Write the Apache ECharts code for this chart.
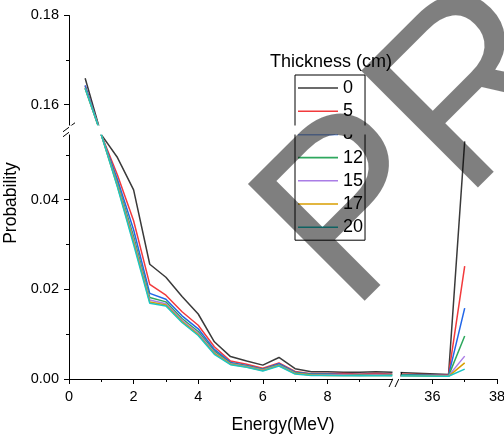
<!DOCTYPE html>
<html><head><meta charset="utf-8">
<script src="https://cdn.jsdelivr.net/npm/echarts@6.0.0/dist/echarts.min.js"></script>
<style>html,body{margin:0;padding:0;background:#fff}#c{width:504px;height:438px}</style>
</head><body><div id="c"></div>
<script>
const energy = [0.5,1,1.5,2,2.5,3,3.5,4,4.5,5,5.5,6,6.5,7,7.5,8,8.5,9,9.5,10,36.5,37];
const thickness = ['0','5','8','12','15','17','20'];
const t0  = [0.1659,0.0545,0.0494,0.0422,0.0256,0.0227,0.0184,0.0145,0.0083,0.0050,0.0040,0.0031,0.0048,0.0023,0.0016,0.0016,0.0015,0.0015,0.0016,0.0015,0.0010,0.0530];
const t5  = [0.1642,0.0545,0.0455,0.0353,0.0211,0.0187,0.0150,0.0120,0.0072,0.0040,0.0033,0.0024,0.0036,0.0017,0.0012,0.0012,0.0012,0.0011,0.0012,0.0011,0.0009,0.0252];
const t8  = [0.1643,0.0545,0.0445,0.0333,0.0191,0.0178,0.0141,0.0112,0.0066,0.0037,0.0030,0.0022,0.0034,0.0015,0.0011,0.0011,0.0010,0.0010,0.0010,0.0010,0.0008,0.0158];
const t12 = [0.1638,0.0545,0.0438,0.0318,0.0182,0.0172,0.0135,0.0106,0.0062,0.0035,0.0029,0.0021,0.0032,0.0014,0.0010,0.0010,0.0009,0.0009,0.0009,0.0009,0.0007,0.0096];
const t15 = [0.1637,0.0545,0.0433,0.0310,0.0176,0.0168,0.0131,0.0102,0.0059,0.0034,0.0028,0.0020,0.0031,0.0013,0.0009,0.0009,0.0009,0.0008,0.0009,0.0008,0.0007,0.0051];
const t17 = [0.1636,0.0545,0.0430,0.0305,0.0172,0.0165,0.0128,0.0099,0.0057,0.0033,0.0027,0.0019,0.0030,0.0012,0.0009,0.0008,0.0008,0.0008,0.0008,0.0008,0.0006,0.0036];
const t20 = [0.1636,0.0545,0.0428,0.0300,0.0169,0.0163,0.0126,0.0097,0.0055,0.0032,0.0026,0.0018,0.0029,0.0011,0.0008,0.0008,0.0007,0.0007,0.0007,0.0007,0.0006,0.0022];
const seriesValues = [t0,t5,t8,t12,t15,t17,t20];
const colors = ['#3a3a3a','#f23a3c','#2166e8','#2ea85e','#aa7de6','#d89e00','#1cc4c4'];
const xMajorTicks = [0,2,4,6,8,36,38];
const xMinorTicks = [1,3,5,7,9,37];
const yMajorTicks = [0,0.02,0.04,0.16,0.18];
const yMinorTicks = [0.01,0.03,0.05,0.17];
const xBreak = {start:10, end:35, gap:0.25};
const yBreak = {start:0.0545, end:0.1555, gap:0.0022};

const FONT = '"Liberation Sans", Arial, sans-serif';
const chart = echarts.init(document.getElementById('c'), null, {renderer:'canvas'});
const gridPos = {left:69, right:7, top:15, bottom:59, containLabel:false, outerBoundsMode:'none'};
const breakArea = {show:true, itemStyle:{color:'#fff', borderColor:'#fff', borderWidth:0, opacity:1}, zigzagAmplitude:0, zigzagZ:100, expandOnClick:false};
const noBreakArea = {show:false};

const option = {
  animation:false,
  backgroundColor:'#fff',
  textStyle:{fontFamily:FONT},
  grid:[Object.assign({}, gridPos), Object.assign({}, gridPos)],
  xAxis:[{
    type:'value', gridIndex:0, min:0, max:38, position:'bottom',
    breaks:[xBreak], breakArea:breakArea,
    name:'Energy(MeV)', nameLocation:'middle', nameGap:37,
    nameTextStyle:{color:'#000', fontSize:17.5, fontFamily:FONT},
    axisLine:{show:true, lineStyle:{color:'#000', width:1}},
    axisTick:{show:true, customValues:xMajorTicks, length:5, lineStyle:{color:'#000', width:1}},
    axisLabel:{show:true, customValues:xMajorTicks, color:'#000', fontSize:14.5, fontFamily:FONT, margin:10},
    splitLine:{show:false}
  },{
    type:'value', gridIndex:1, min:0, max:38, position:'bottom',
    breaks:[xBreak], breakArea:noBreakArea,
    axisLine:{show:false},
    axisTick:{show:true, customValues:xMinorTicks, length:3, lineStyle:{color:'#000', width:1}},
    axisLabel:{show:false}, splitLine:{show:false}
  }],
  yAxis:[{
    type:'value', gridIndex:0, min:0, max:0.18, position:'left',
    breaks:[yBreak], breakArea:breakArea,
    name:'Probability', nameLocation:'middle', nameGap:38,
    nameTextStyle:{color:'#000', fontSize:17.5, fontFamily:FONT, padding:[0,12,0,0]},
    axisLine:{show:true, lineStyle:{color:'#000', width:1}},
    axisTick:{show:true, customValues:yMajorTicks, length:5, lineStyle:{color:'#000', width:1}},
    axisLabel:{show:true, customValues:yMajorTicks, color:'#000', fontSize:14.5, fontFamily:FONT, margin:10,
      formatter:function(v){return Number(v).toFixed(2);}},
    splitLine:{show:false}
  },{
    type:'value', gridIndex:1, min:0, max:0.18, position:'left',
    breaks:[yBreak], breakArea:noBreakArea,
    axisLine:{show:false},
    axisTick:{show:true, customValues:yMinorTicks, length:3, lineStyle:{color:'#000', width:1}},
    axisLabel:{show:false}, splitLine:{show:false}
  }],
  legend:{
    show:true, orient:'vertical', left:295, top:75,
    data:thickness,
    icon:'rect',
    itemWidth:40, itemHeight:1.6, itemGap:5.2,
    padding:[4,2,4,3],
    borderColor:'#000', borderWidth:1, backgroundColor:'transparent',
    textStyle:{color:'#000', fontSize:18, lineHeight:18, fontFamily:FONT},
    selectedMode:false
  },
  series: thickness.map(function(name, k){
    return {
      name:name, type:'line', xAxisIndex:0, yAxisIndex:0,
      symbol:'none', showSymbol:false, clip:true,
      lineStyle:{color:colors[k], width:1.5},
      itemStyle:{color:colors[k]},
      data: energy.map(function(x,i){return [x, seriesValues[k][i]];})
    };
  })
};
chart.setOption(option);

// decorations: break marks, legend title, watermark
const xb0 = chart.convertToPixel({xAxisIndex:0}, xBreak.start);
const xb1 = chart.convertToPixel({xAxisIndex:0}, xBreak.end);
const yb0 = chart.convertToPixel({yAxisIndex:0}, yBreak.start);
const yb1 = chart.convertToPixel({yAxisIndex:0}, yBreak.end);
const xc = (xb0 + xb1) / 2;
const yc = (yb0 + yb1) / 2;
const yAxisX = chart.convertToPixel({xAxisIndex:0}, 0);
const xAxisY = chart.convertToPixel({yAxisIndex:0}, 0);
const ls = {stroke:'#000', lineWidth:1};
chart.setOption({
  graphic:[
    {type:'rect', z:50, silent:true, shape:{x:xc-3.5, y:xAxisY-3, width:7, height:6}, style:{fill:'#fff'}},
    {type:'line', z:51, silent:true, shape:{x1:xc-7, y1:xAxisY+8, x2:xc, y2:xAxisY-7}, style:ls},
    {type:'line', z:51, silent:true, shape:{x1:xc-1, y1:xAxisY+8, x2:xc+6, y2:xAxisY-7}, style:ls},
    {type:'rect', z:50, silent:true, shape:{x:yAxisX-3, y:yc-3.5, width:6, height:7}, style:{fill:'#fff'}},
    {type:'line', z:51, silent:true, shape:{x1:yAxisX-6, y1:yc+7, x2:yAxisX+6, y2:yc-2}, style:ls},
    {type:'line', z:51, silent:true, shape:{x1:yAxisX-6, y1:yc+2, x2:yAxisX+6, y2:yc-7}, style:ls},
    {type:'text', z:60, silent:true, x:331, y:62,
      style:{text:'Thickness (cm)', font:'18px ' + FONT, fill:'#000', textAlign:'center', textVerticalAlign:'middle', align:'center', verticalAlign:'middle'}},
    {type:'text', z:1000, silent:true, x:304, y:268, rotation:Math.PI/4,
      style:{text:'PR', font:'240px ' + FONT, fill:'rgba(0,0,0,0.5)', textAlign:'left', textVerticalAlign:'middle', align:'left', verticalAlign:'middle'}}
  ]
});
</script></body></html>
